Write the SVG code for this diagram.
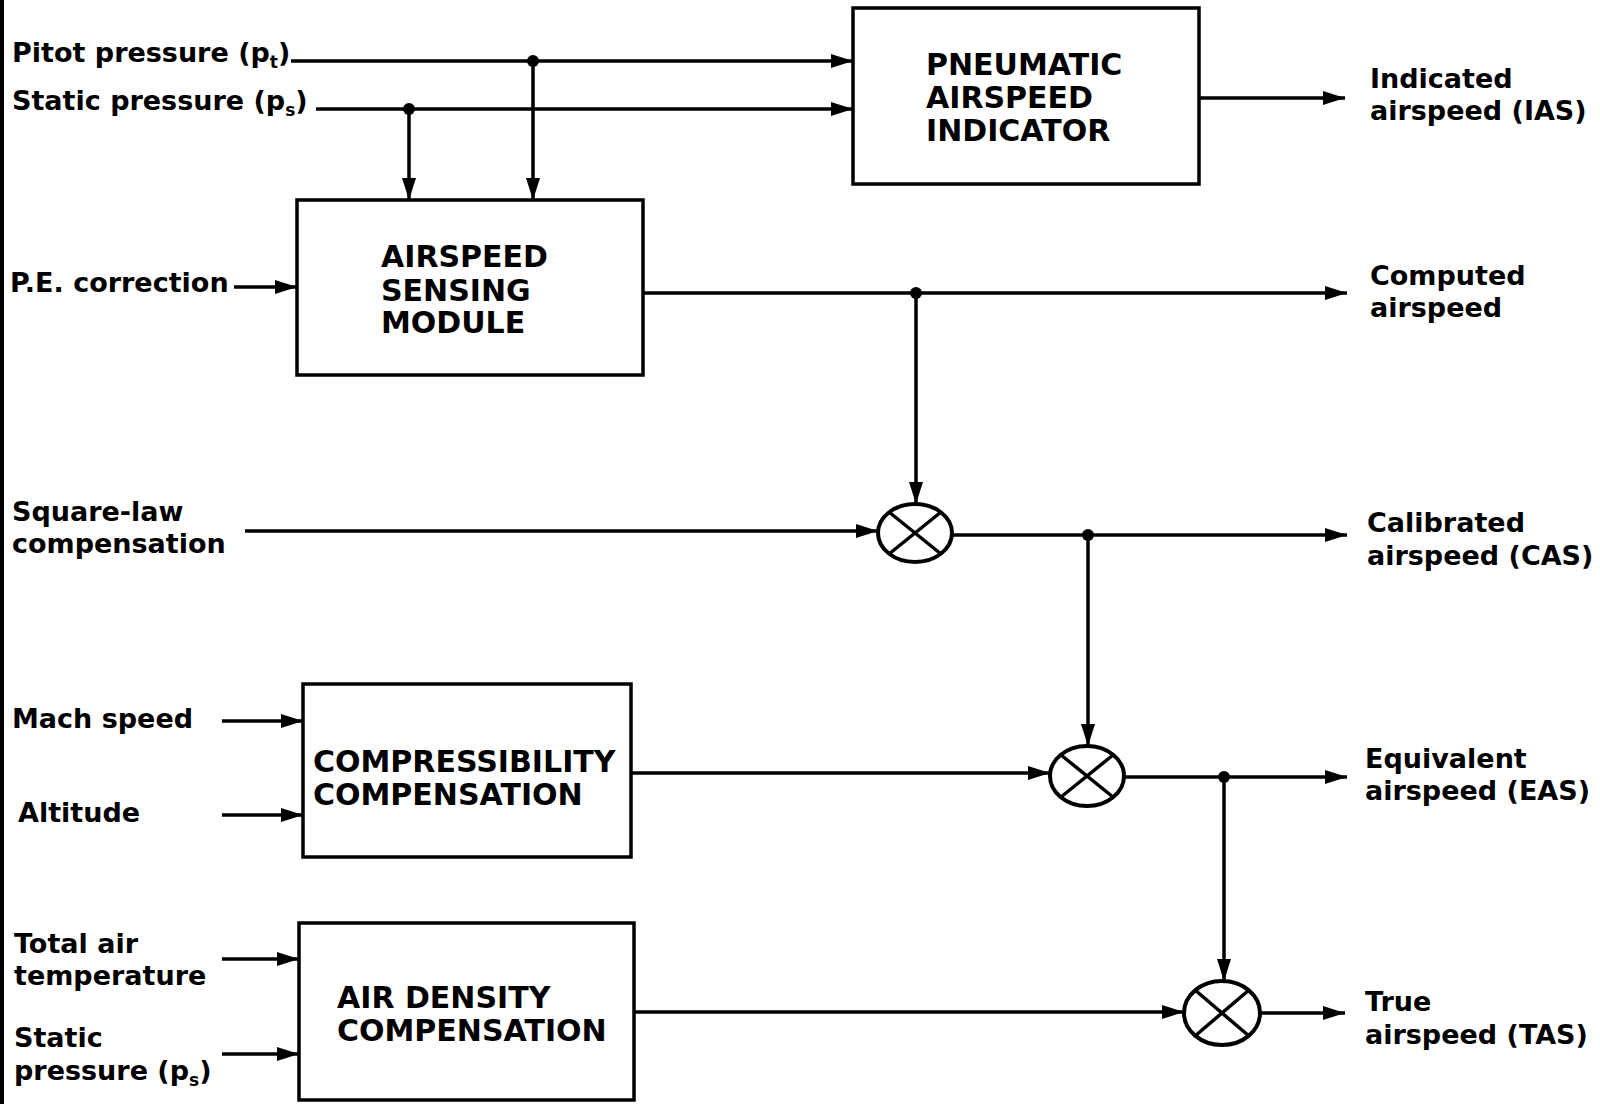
<svg xmlns="http://www.w3.org/2000/svg" width="1600" height="1104" viewBox="0 0 1600 1104">
<style>
.lbl{font-family:"DejaVu Sans","Liberation Sans",sans-serif;font-weight:bold;font-size:27px;fill:#000}
.box{fill:#fff;stroke:#000;stroke-width:3.5}
.btx{font-family:"DejaVu Sans","Liberation Sans",sans-serif;font-weight:bold;font-size:30px;fill:#000}
.ln{fill:none;stroke:#000;stroke-width:3.5}
.dot{fill:#000}
.mul{fill:#fff;stroke:#000;stroke-width:4}
</style>
<defs>
<marker id="ah" markerUnits="userSpaceOnUse" markerWidth="24" markerHeight="16" refX="22" refY="7" orient="auto">
<path d="M0,0 L22,7 L0,14 z" fill="#000"/>
</marker>
</defs>
<rect x="0" y="0" width="1600" height="1104" fill="#fff"/>
<rect x="0" y="0" width="4" height="1104" fill="#000"/>

<g id="connectors">
<path class="ln" d="M291,61 H853" marker-end="url(#ah)"/>
<path class="ln" d="M316,109 H853" marker-end="url(#ah)"/>
<path class="ln" d="M409,109 V200" marker-end="url(#ah)"/>
<path class="ln" d="M533,61 V200" marker-end="url(#ah)"/>
<path class="ln" d="M234,287 H297" marker-end="url(#ah)"/>
<path class="ln" d="M1199,98 H1345" marker-end="url(#ah)"/>
<path class="ln" d="M643,293 H1347" marker-end="url(#ah)"/>
<path class="ln" d="M916,293 V504" marker-end="url(#ah)"/>
<path class="ln" d="M245,531 H878" marker-end="url(#ah)"/>
<path class="ln" d="M952,535 H1347" marker-end="url(#ah)"/>
<path class="ln" d="M1088,535 V746" marker-end="url(#ah)"/>
<path class="ln" d="M222,721 H303" marker-end="url(#ah)"/>
<path class="ln" d="M222,815 H303" marker-end="url(#ah)"/>
<path class="ln" d="M631,773 H1050" marker-end="url(#ah)"/>
<path class="ln" d="M1124,777 H1347" marker-end="url(#ah)"/>
<path class="ln" d="M1224,777 V981" marker-end="url(#ah)"/>
<path class="ln" d="M222,959 H299" marker-end="url(#ah)"/>
<path class="ln" d="M222,1054 H299" marker-end="url(#ah)"/>
<path class="ln" d="M634,1012 H1184" marker-end="url(#ah)"/>
<path class="ln" d="M1260,1013 H1345" marker-end="url(#ah)"/>
<circle class="dot" cx="409" cy="109" r="6"/>
<circle class="dot" cx="533" cy="61" r="6"/>
<circle class="dot" cx="916" cy="293" r="6"/>
<circle class="dot" cx="1088" cy="535" r="6"/>
<circle class="dot" cx="1224" cy="777" r="6"/>
</g>

<g id="pneumatic-airspeed-indicator">
<rect class="box" x="853" y="8" width="346" height="176"/>
<text class="btx" x="926" y="75">PNEUMATIC</text>
<text class="btx" x="926" y="108">AIRSPEED</text>
<text class="btx" x="926" y="141">INDICATOR</text>
</g>

<g id="airspeed-sensing-module">
<rect class="box" x="297" y="200" width="346" height="175"/>
<text class="btx" x="381" y="267">AIRSPEED</text>
<text class="btx" x="381" y="301">SENSING</text>
<text class="btx" x="381" y="333">MODULE</text>
</g>

<g id="compressibility-compensation">
<rect class="box" x="303" y="684" width="328" height="173"/>
<text class="btx" x="313" y="772">COMPRESSIBILITY</text>
<text class="btx" x="313" y="805">COMPENSATION</text>
</g>

<g id="air-density-compensation">
<rect class="box" x="299" y="923" width="335" height="177"/>
<text class="btx" x="337" y="1008">AIR DENSITY</text>
<text class="btx" x="337" y="1041">COMPENSATION</text>
</g>

<g id="multiplier-1">
<ellipse class="mul" cx="915" cy="533" rx="37" ry="29"/>
<path class="ln" d="M889,512 L941,554 M941,512 L889,554"/>
</g>
<g id="multiplier-2">
<ellipse class="mul" cx="1087" cy="776" rx="37" ry="30"/>
<path class="ln" d="M1061,755 L1113,797 M1113,755 L1061,797"/>
</g>
<g id="multiplier-3">
<ellipse class="mul" cx="1222" cy="1013" rx="38" ry="32"/>
<path class="ln" d="M1195,990 L1249,1036 M1249,990 L1195,1036"/>
</g>

<g id="inputs">
<text class="lbl" x="12" y="62">Pitot pressure (p<tspan font-size="17" dy="6">t</tspan><tspan dy="-6">)</tspan></text>
<text class="lbl" x="12" y="110">Static pressure (p<tspan font-size="17" dy="6">s</tspan><tspan dy="-6">)</tspan></text>
<text class="lbl" x="10" y="292">P.E. correction</text>
<text class="lbl" x="12" y="521">Square-law</text>
<text class="lbl" x="12" y="553">compensation</text>
<text class="lbl" x="12" y="728">Mach speed</text>
<text class="lbl" x="18" y="822">Altitude</text>
<text class="lbl" x="14" y="953">Total air</text>
<text class="lbl" x="14" y="985">temperature</text>
<text class="lbl" x="14" y="1047">Static</text>
<text class="lbl" x="14" y="1080">pressure (p<tspan font-size="17" dy="6">s</tspan><tspan dy="-6">)</tspan></text>
</g>

<g id="outputs">
<text class="lbl" x="1370" y="88">Indicated</text>
<text class="lbl" x="1370" y="120">airspeed (IAS)</text>
<text class="lbl" x="1370" y="285">Computed</text>
<text class="lbl" x="1370" y="317">airspeed</text>
<text class="lbl" x="1367" y="532">Calibrated</text>
<text class="lbl" x="1367" y="565">airspeed (CAS)</text>
<text class="lbl" x="1365" y="768">Equivalent</text>
<text class="lbl" x="1365" y="800">airspeed (EAS)</text>
<text class="lbl" x="1365" y="1011">True</text>
<text class="lbl" x="1365" y="1044">airspeed (TAS)</text>
</g>
</svg>
